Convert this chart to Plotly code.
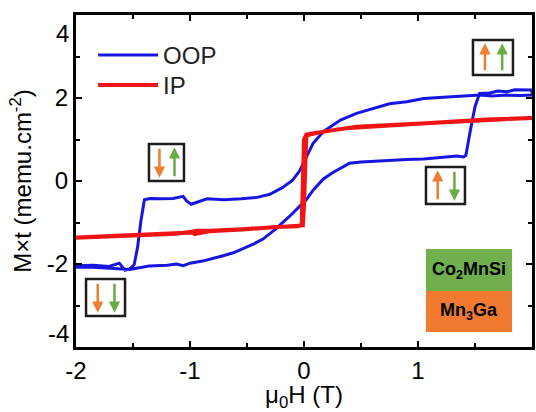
import plotly.graph_objects as go

# ---------------- data ----------------
oop_asc_x = [-2.00, -1.85, -1.70, -1.60, -1.53, -1.47, -1.36, -1.20, -1.12, -1.06, -1.00, -0.89,
             -0.80, -0.71, -0.62, -0.54, -0.45, -0.36, -0.25, -0.13, -0.04, 0.02, 0.08, 0.17,
             0.25, 0.32, 0.40, 0.50, 0.61, 0.75, 0.90, 1.05, 1.20, 1.34, 1.40, 1.42, 1.46,
             1.50, 1.54, 1.63, 1.70, 1.78, 1.85, 1.92, 2.00]
oop_asc_y = [-2.08, -2.08, -2.10, -2.12, -2.13, -2.10, -2.05, -2.03, -2.00, -2.04, -1.98, -1.93,
             -1.87, -1.80, -1.73, -1.64, -1.53, -1.40, -1.16, -0.86, -0.62, -0.45, -0.22, 0.05,
             0.20, 0.31, 0.43, 0.46, 0.48, 0.51, 0.52, 0.53, 0.56, 0.60, 0.58, 0.62, 1.23,
             1.79, 2.11, 2.12, 2.17, 2.15, 2.20, 2.19, 2.19]

oop_desc_x = [2.00, 1.90, 1.78, 1.65, 1.54, 1.45, 1.34, 1.19, 1.05, 0.90, 0.75, 0.61, 0.46,
              0.32, 0.17, 0.08, 0.00, -0.04, -0.10, -0.19, -0.30, -0.42, -0.55, -0.70, -0.85,
              -0.99, -1.03, -1.06, -1.15, -1.25, -1.35, -1.40, -1.43, -1.46, -1.49, -1.53,
              -1.57, -1.62, -1.71, -1.85, -2.00]
oop_desc_y = [2.07, 2.06, 2.07, 2.05, 2.07, 2.05, 2.03, 2.01, 1.99, 1.91, 1.86, 1.75, 1.63,
              1.47, 1.19, 0.91, 0.47, 0.24, 0.02, -0.16, -0.32, -0.40, -0.43, -0.45, -0.43,
              -0.56, -0.48, -0.37, -0.42, -0.43, -0.42, -0.45, -0.95, -1.60, -2.02, -2.12,
              -2.15, -1.98, -2.06, -2.03, -2.04]

ip_asc_x = [-2.0, -1.7, -1.42, -1.12, -0.98, -0.95, -0.83, -0.54, -0.25, -0.06, -0.01, 0.00,
            0.01, 0.02, 0.05, 0.17, 0.46, 0.75, 1.05, 1.34, 1.63, 2.0]
ip_asc_y = [-1.36, -1.33, -1.30, -1.26, -1.24, -1.20, -1.20, -1.16, -1.10, -1.08, -1.07, -0.60,
            0.40, 1.08, 1.12, 1.19, 1.31, 1.35, 1.39, 1.43, 1.47, 1.51]

ip_desc_x = [2.0, 1.6, 1.2, 0.8, 0.4, 0.1, 0.02, 0.0, -0.01, -0.02, -0.05, -0.25, -0.54, -0.83,
             -0.96, -0.98, -1.12, -1.42, -1.7, -2.0]
ip_desc_y = [1.52, 1.48, 1.42, 1.36, 1.28, 1.16, 1.12, 1.00, 0.0, -1.06, -1.09, -1.11, -1.17,
             -1.21, -1.28, -1.22, -1.27, -1.31, -1.34, -1.37]

series_names = ["OOP", "IP"]
x_tick_vals = [-2, -1, 0, 1, 2]
x_tick_text = ["-2", "-1", "0", "1", "2"]
y_tick_vals = [-4, -2, 0, 2, 4]
y_tick_text = ["", "-2", "0", "2", ""]
layer_labels = ["Co<sub>2</sub>MnSi", "Mn<sub>3</sub>Ga"]

# ---------------- styles ----------------
FONT = "Arial, Liberation Sans, sans-serif"
BLUE = "#1616e0"
RED = "#f01414"
ORANGE = "#ed7d31"
GREEN = "#6aab45"

fig = go.Figure()
fig.add_trace(go.Scatter(x=oop_asc_x + oop_desc_x, y=oop_asc_y + oop_desc_y, mode="lines",
                         name=series_names[0], line=dict(color=BLUE, width=3),
                         showlegend=True))
fig.add_trace(go.Scatter(x=ip_asc_x + ip_desc_x, y=ip_asc_y + ip_desc_y, mode="lines",
                         name=series_names[1], line=dict(color=RED, width=4),
                         showlegend=True, legend="legend2"))

shapes = []
annotations = []

# spin-configuration boxes: (x0, x1, y0, y1, orange_dir, green_dir)
boxes = [
    (1.482, 1.833, 2.554, 3.398, "up", "up"),
    (-1.360, -1.053, 0.0, 0.892, "down", "up"),
    (1.070, 1.412, -0.554, 0.337, "up", "down"),
    (-1.912, -1.570, -3.253, -2.361, "down", "down"),
]
for x0, x1, y0, y1, od, gd in boxes:
    shapes.append(dict(type="rect", xref="x", yref="y", x0=x0, x1=x1, y0=y0, y1=y1,
                       line=dict(color="#1c1c1c", width=2.5), fillcolor="rgba(0,0,0,0)"))
    w = x1 - x0
    h = y1 - y0
    ylo = y0 + 0.09 * h
    yhi = y1 - 0.09 * h
    for frac, col, d in [(0.30, ORANGE, od), (0.73, GREEN, gd)]:
        xa = x0 + frac * w
        if d == "up":
            head, tail = yhi, ylo
        else:
            head, tail = ylo, yhi
        annotations.append(dict(x=xa, y=head, ax=xa, ay=tail, xref="x", yref="y",
                                axref="x", ayref="y", text="", showarrow=True,
                                arrowhead=2, arrowsize=0.9, arrowwidth=2.5, arrowcolor=col))

# layer stack
shapes.append(dict(type="rect", xref="x", yref="y", x0=1.070, x1=1.825, y0=-2.651, y1=-1.639,
                   line=dict(width=0), fillcolor="#6fb04c", layer="above"))
shapes.append(dict(type="rect", xref="x", yref="y", x0=1.070, x1=1.825, y0=-3.639, y1=-2.651,
                   line=dict(width=0), fillcolor="#f07b30", layer="above"))
annotations.append(dict(x=1.447, y=-2.145, xref="x", yref="y", text="<b>%s</b>" % layer_labels[0],
                        showarrow=False, font=dict(family=FONT, size=18, color="black")))
annotations.append(dict(x=1.447, y=-3.145, xref="x", yref="y", text="<b>%s</b>" % layer_labels[1],
                        showarrow=False, font=dict(family=FONT, size=18, color="black")))

# outer y tick labels (drawn inset as in the reference)
annotations.append(dict(x=-0.012, y=3.566, xref="paper", yref="y", text="4", showarrow=False,
                        xanchor="right", yanchor="middle", font=dict(family=FONT, size=24, color="black")))
annotations.append(dict(x=-0.012, y=-3.663, xref="paper", yref="y", text="-4", showarrow=False,
                        xanchor="right", yanchor="middle", font=dict(family=FONT, size=24, color="black")))

axis_common = dict(showline=True, linewidth=3, linecolor="black", mirror="ticks",
                   ticks="inside", ticklen=6, tickwidth=2, tickcolor="black",
                   showgrid=False, zeroline=False, automargin=False,
                   tickfont=dict(family=FONT, size=24, color="black"))

legend_common = dict(xanchor="left", yanchor="top", bgcolor="rgba(0,0,0,0)", visible=True,
                     font=dict(family=FONT, size=24, color="#222"), itemwidth=60)

fig.update_layout(
    width=536, height=412,
    showlegend=True,
    margin=dict(l=76, r=4, t=15, b=65),
    paper_bgcolor="white", plot_bgcolor="white",
    font=dict(family=FONT, color="black"),
    xaxis=dict(range=[-2, 2], tickvals=x_tick_vals, ticktext=x_tick_text,
               minor=dict(dtick=0.5, ticks="inside", ticklen=4, tickwidth=2, tickcolor="black"),
               title=dict(text="μ<sub>0</sub>H (T)", font=dict(family=FONT, size=24), standoff=12),
               **axis_common),
    yaxis=dict(range=[-4, 4], tickvals=y_tick_vals, ticktext=y_tick_text,
               minor=dict(dtick=1, ticks="inside", ticklen=4, tickwidth=2, tickcolor="black"),
               title=dict(text="M×t (memu.cm<sup>-2</sup>)", font=dict(family=FONT, size=24), standoff=9),
               **axis_common),
    legend=dict(x=0.0375, y=0.946, **legend_common),
    legend2=dict(x=0.0375, y=0.856, **legend_common),
    shapes=shapes,
    annotations=annotations,
)

fig.write_html("out.html", config={"displayModeBar": False},
               post_script="document.body.style.margin='0';")
